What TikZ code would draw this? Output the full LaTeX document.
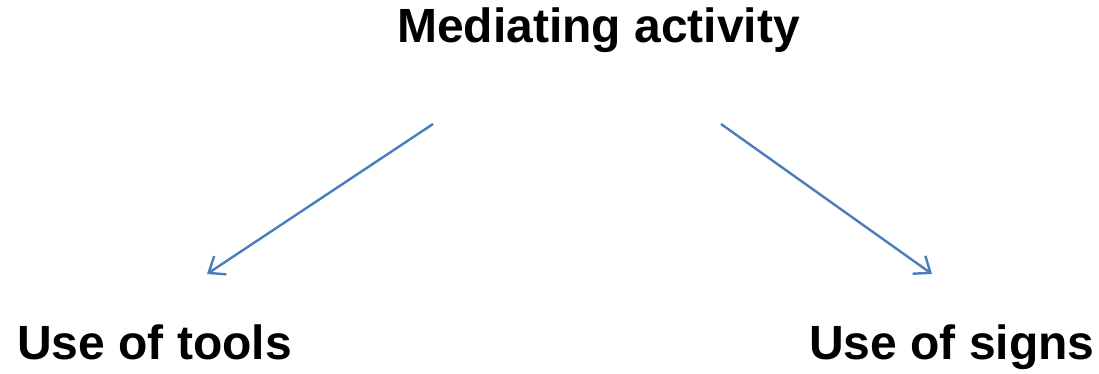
\documentclass[tikz,border=0pt]{standalone}
\usepackage{fontspec}
\setmainfont{Liberation Sans}
\usetikzlibrary{arrows.meta}
\definecolor{linkblue}{RGB}{74,126,187}
\tikzset{
  label/.style={inner sep=0pt, anchor=base west, font=\fontsize{48}{57}\selectfont\bfseries},
  link/.style={draw=linkblue, line width=2.4pt, -{Straight Barb[length=14pt,width=22pt,line width=2.4pt]}}
}
\begin{document}
\begin{tikzpicture}[x=1pt,y=-1pt]
  \useasboundingbox (0,0) rectangle (1099,374);
  \node[label] (act) at (397,43) {Mediating activity};
  \node[label] (tools) at (17,359) {Use of tools};
  \node[label] (signs) at (809,359) {Use of signs};
  \coordinate (actL) at (433,124);
  \coordinate (actR) at (721,124);
  \coordinate (toolsT) at (207,274);
  \coordinate (signsT) at (932,274);
  \draw[link] (actL) -- (toolsT);
  \draw[link] (actR) -- (signsT);
\end{tikzpicture}
\end{document}
